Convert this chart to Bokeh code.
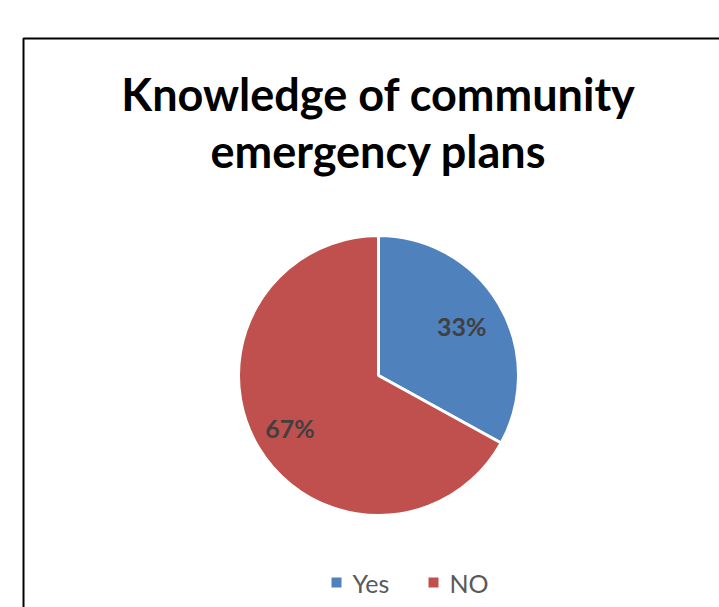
import numpy as np
from bokeh.plotting import figure
from bokeh.models import Range1d, ColumnDataSource
from bokeh.core.properties import value
from bokeh.embed import file_html
from bokeh.resources import INLINE

categories = ["Yes", "NO"]
shares = [33, 67]
colors = ["#4F81BD", "#C0504D"]
labels = ["33%", "67%"]
title_lines = ["Knowledge of community", "emergency plans"]

W, H = 719, 607
p = figure(width=W, height=H, output_backend="svg", toolbar_location=None,
           x_range=Range1d(0, W), y_range=Range1d(0, H), min_border=0)
p.axis.visible = False
p.grid.visible = False
p.outline_line_color = None
p.background_fill_color = "white"
p.border_fill_color = "white"

# chart frame
p.quad(left=[23], right=[W + 20], bottom=[-20], top=[H - 38],
       fill_color=None, line_color="black", line_width=2)

# title
p.text(x=[378, 378], y=[H - 93, H - 150], text=title_lines,
       text_font=value("Lato"), text_font_style="bold", text_font_size="45px",
       text_align="center", text_baseline="middle", text_color="black")

# pie
cx, cy, r = 378, H - 375, 140
vals = np.array(shares, dtype=float)
frac = vals / vals.sum()
ends = np.pi / 2 - 2 * np.pi * np.cumsum(frac)
starts = np.concatenate([[np.pi / 2], ends[:-1]])
src = ColumnDataSource(dict(start=ends, end=starts, color=colors, cat=categories))
p.wedge(x=cx, y=cy, radius=r, start_angle="start", end_angle="end",
        fill_color="color", line_color="white", line_width=3, source=src)

# data labels
mid = (starts + ends) / 2
lr = [0.69 * r, 0.735 * r]
lx = [cx + lr[i] * np.cos(mid[i]) for i in range(2)]
ly = [cy + lr[i] * np.sin(mid[i]) for i in range(2)]
p.text(x=lx, y=ly, text=labels, text_font=value("Lato"), text_font_style="bold",
       text_font_size="25px", text_align="center", text_baseline="middle",
       text_color="#404040")

# legend
leg_x = [336, 433]
leg_y = [H - 582, H - 582]
p.scatter(x=leg_x, y=leg_y, marker="square", size=10, fill_color=colors, line_color=None)
p.text(x=[x + 16 for x in leg_x], y=leg_y, text=categories, text_font=value("Lato"),
       text_font_size="25px", text_align="left", text_baseline="middle",
       text_color="#595959")

open("out.html", "w").write(file_html(p, INLINE))
